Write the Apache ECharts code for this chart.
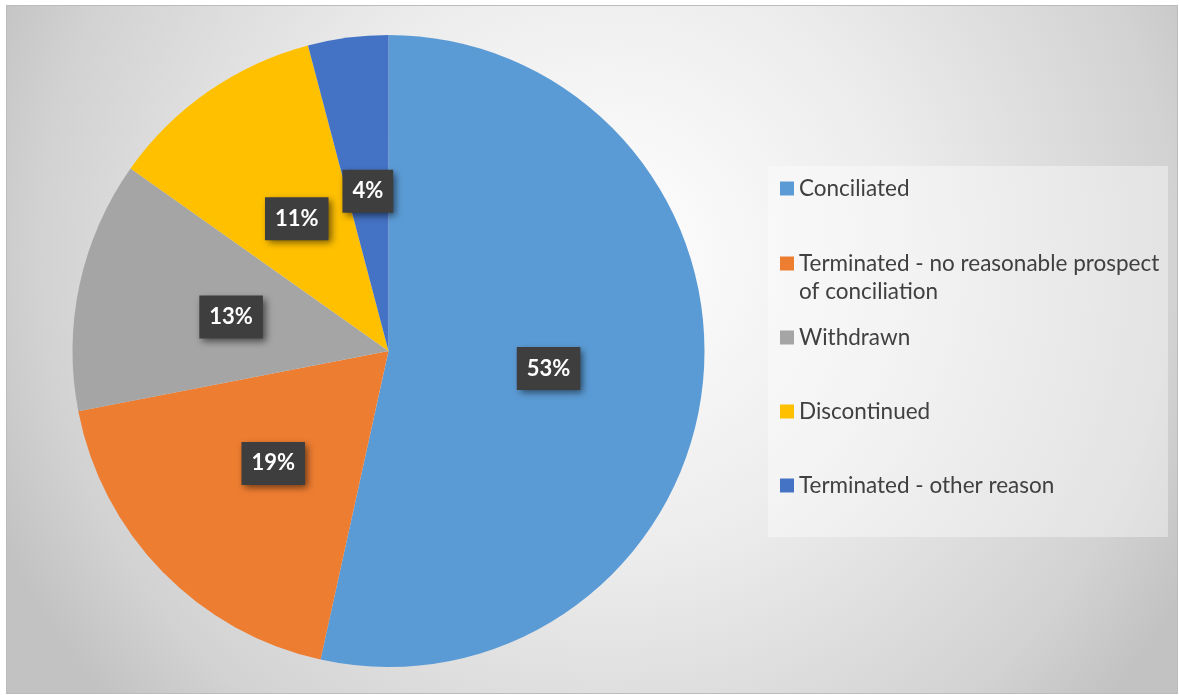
<!DOCTYPE html>
<html>
<head>
<meta charset="utf-8">
<script src="https://cdn.jsdelivr.net/npm/echarts@6/dist/echarts.min.js"></script>
<style>
    html, body {margin: 0; padding: 0; background: #ffffff;}
    #main {
        position: absolute;
        left: 6px;
        top: 5px;
        width: 1170px;
        height: 687px;
        border: 1px solid #bcbcbc;
        background: radial-gradient(circle 669px at 600px 250px, #ffffff 0%, #ececec 45%, #d2d2d2 85%, #c2c2c2 100%);
    }
</style>
</head>
<body>
<div id="main"></div>
<script>
// 结果类别
var outcomeNames = [
    "Conciliated",
    "Terminated - no reasonable prospect of conciliation",
    "Withdrawn",
    "Discontinued",
    "Terminated - other reason"
];
// 占比 (%)
var outcomeValues = [53.45, 18.5, 12.85, 11.1, 4.1];
var outcomeColors = ["#5b9bd5", "#ed7d31", "#a5a5a5", "#ffc000", "#4472c4"];

var pieData = [];
outcomeNames.forEach(function (name, i) {
    pieData.push({name: name, value: outcomeValues[i], itemStyle: {color: outcomeColors[i]}});
});

// 图例: 每项一个 legend, 方便控制位置
var legendTops = [190, 265, 339, 413, 487];
var legends = [];
outcomeNames.forEach(function (name, i) {
    var twoLine = name.indexOf(" of conciliation") > 0;
    legends.push({
        data: [name],
        orient: "vertical",
        left: 773,
        top: (legendTops[i] - 5) - (twoLine ? 42 : 14),
        padding: 0,
        itemWidth: 14,
        itemHeight: 14,
        itemGap: 0,
        icon: "rect",
        selectedMode: false,
        formatter: function (n) {
            if (n.indexOf(" of conciliation") > 0) {
                return "{s| }\n{t|Terminated - no reasonable prospect}\n{t|of conciliation}";
            }
            return "{t|" + n + "}";
        },
        textStyle: {
            padding: [0, 0, 0, 0],
            rich: {
                s: {fontSize: 22.5, lineHeight: 28, fontFamily: "Lato", color: "#404040"},
                t: {fontSize: 22.5, lineHeight: 28, fontFamily: "Lato", color: "#404040"}
            }
        }
    });
});

var chart = echarts.init(document.getElementById("main"));
var option = {
    backgroundColor: "transparent",
    animation: false,
    graphic: [
        {
            type: "rect",
            left: 761,
            top: 160,
            z: -1,
            shape: {width: 400, height: 371},
            style: {fill: "rgba(255,255,255,0.38)"}
        }
    ],
    legend: legends,
    series: [
        {
            name: "",
            type: "pie",
            radius: 316,
            center: [381.5, 345],
            startAngle: 90,
            clockwise: true,
            data: pieData,
            itemStyle: {borderWidth: 0},
            label: {
                position: "inside",
                formatter: function (p) {
                    return Math.round(p.percent) + "%";
                },
                color: "#ffffff",
                fontFamily: "Lato",
                fontWeight: "bold",
                fontSize: 22,
                backgroundColor: "#3e3e3e",
                padding: [11, 10, 10, 10],
                shadowColor: "rgba(0,0,0,0.55)",
                shadowBlur: 7,
                shadowOffsetX: 3,
                shadowOffsetY: 3
            },
            labelLine: {show: false},
            emphasis: {disabled: true}
        }
    ]
};
chart.setOption(option);
</script>
</body>
</html>
